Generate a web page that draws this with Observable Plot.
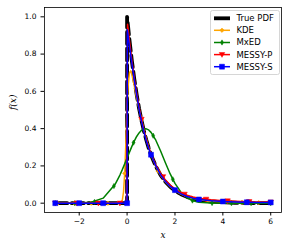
<!DOCTYPE html>
<html><head><meta charset="utf-8">
<script src="https://cdn.jsdelivr.net/npm/d3@7"></script>
<script src="https://cdn.jsdelivr.net/npm/@observablehq/plot@0.6"></script>
<style>
html,body{margin:0;padding:0;background:#fff;}
#wrap{position:relative;width:289px;height:250px;}
#leg{position:absolute;left:0;top:0;pointer-events:none;}
</style></head><body><div id="wrap"></div>
<script>
// ---- data ----
const xTicks = [-2, 0, 2, 4, 6];
const yTicks = [0, 0.2, 0.4, 0.6, 0.8, 1.0];
const seriesNames = ["True PDF", "KDE", "MxED", "MESSY-P", "MESSY-S"];

const xTrue = [-3, -2, -1, 0, 0, 0.1, 0.2, 0.3, 0.4, 0.5, 0.6, 0.7, 0.8, 0.9, 1.0, 1.2, 1.4, 1.6, 1.8, 2.0, 2.25, 2.5, 2.75, 3, 3.5, 4, 4.5, 5, 5.5, 6];
const yTrue = [0, 0, 0, 0, 1.0, 0.874, 0.763, 0.667, 0.583, 0.509, 0.445, 0.389, 0.340, 0.297, 0.259, 0.198, 0.151, 0.115, 0.088, 0.067, 0.048, 0.034, 0.024, 0.017, 0.009, 0.0045, 0.0023, 0.0012, 0.0006, 0.0003];

const xKde = [-3, -2.5, -2, -1.5, -1, -0.5, -0.3, -0.2, -0.15, -0.1, -0.05, 0, 0.05, 0.1, 0.15, 0.2, 0.3, 0.4, 0.5, 0.6, 0.7, 0.8, 0.9, 1.0, 1.2, 1.4, 1.6, 1.8, 2.0, 2.25, 2.5, 2.75, 3, 3.5, 4, 4.5, 5, 5.5, 6];
const yKde = [0, 0, 0, 0, 0, 0, 0.002, 0.015, 0.06, 0.16, 0.33, 0.52, 0.64, 0.70, 0.71, 0.69, 0.63, 0.565, 0.505, 0.45, 0.395, 0.345, 0.30, 0.262, 0.198, 0.15, 0.115, 0.088, 0.068, 0.049, 0.036, 0.026, 0.019, 0.011, 0.007, 0.005, 0.004, 0.003, 0.003];
const xKdeMark = [-2.9, -2.2, -1.5, -0.8, -0.1, 0.6, 1.3, 2.0, 2.7, 3.4, 4.1, 4.8, 5.5];
const yKdeMark = [0, 0, 0, 0, 0.16, 0.45, 0.172, 0.068, 0.028, 0.012, 0.007, 0.0045, 0.003];

const xMx = [-3, -2.5, -2, -1.5, -1, -0.5, -0.3, -0.2, -0.1, 0, 0.1, 0.2, 0.3, 0.4, 0.5, 0.6, 0.7, 0.8, 0.9, 1.0, 1.2, 1.4, 1.6, 1.8, 2.0, 2.25, 2.5, 2.75, 3, 3.5, 4, 5, 6];
const yMx = [0, 0, 0.0005, 0.0048, 0.027, 0.101, 0.151, 0.18, 0.211, 0.243, 0.274, 0.305, 0.333, 0.358, 0.377, 0.391, 0.399, 0.399, 0.393, 0.38, 0.338, 0.28, 0.217, 0.157, 0.106, 0.059, 0.029, 0.013, 0.005, 0.001, 0, 0, 0];
const xMxMark = [-3, -2.18, -1.36, -0.55, 0.27, 1.09, 1.91, 2.73, 3.55, 4.36, 5.18, 6];
const yMxMark = [0, 0.0002, 0.007, 0.092, 0.325, 0.362, 0.128, 0.014, 0.001, 0, 0, 0];

const xMp = [-3, -2, -1, -0.3, -0.02, 0.02, 0.1, 0.2, 0.3, 0.4, 0.5, 0.6, 0.7, 0.8, 0.9, 1.0, 1.2, 1.4, 1.6, 1.8, 2.0, 2.25, 2.5, 2.75, 3, 3.5, 4, 4.5, 5, 5.5, 6];
const yMp = [0, 0, 0, 0, 0, 0.96, 0.87, 0.765, 0.67, 0.59, 0.515, 0.45, 0.393, 0.343, 0.30, 0.265, 0.205, 0.16, 0.125, 0.097, 0.076, 0.057, 0.043, 0.033, 0.026, 0.018, 0.013, 0.01, 0.008, 0.007, 0.006];
const xMpMark = [-3, -2.1, -1.2, -0.3, 0.6, 1.5, 2.4, 3.3, 4.2, 5.1, 6];
const yMpMark = [0, 0, 0, 0, 0.45, 0.142, 0.048, 0.021, 0.012, 0.008, 0.006];

const xMs = [-3, -2, -1, 0, 0.01, 0.1, 0.2, 0.3, 0.4, 0.5, 0.6, 0.7, 0.8, 0.9, 1.0, 1.2, 1.4, 1.6, 1.8, 2.0, 2.25, 2.5, 2.75, 3, 3.5, 4, 4.5, 5, 5.5, 6];
const yMs = [0, 0, 0, 0, 0.93, 0.84, 0.75, 0.66, 0.58, 0.505, 0.44, 0.385, 0.335, 0.295, 0.26, 0.2, 0.152, 0.116, 0.09, 0.07, 0.05, 0.036, 0.027, 0.02, 0.013, 0.009, 0.007, 0.005, 0.004, 0.004];
const xMsMark = [-3, -2, -1, 0, 1, 2, 3, 4, 5, 6];
const yMsMark = [0, 0, 0, 0, 0.26, 0.07, 0.02, 0.009, 0.005, 0.004];

// ---- build ----
const pts = (xs, ys) => xs.map((x, i) => ({x, y: ys[i]}));
const triDown = {
  draw(ctx, size) {
    const a = Math.sqrt(size) * 0.6;
    ctx.moveTo(-a, -a * 0.75);
    ctx.lineTo(a, -a * 0.75);
    ctx.lineTo(0, a * 1.0);
    ctx.closePath();
  }
};
const series = [
  {name: seriesNames[0], color: "black", line: pts(xTrue, yTrue), marks: [], width: 3.8, dash: "12,4.5", symbol: null, r: 0},
  {name: seriesNames[1], color: "orange", line: pts(xKde, yKde), marks: pts(xKdeMark, yKdeMark), width: 1.5, dash: null, symbol: "diamond2", r: 2.0},
  {name: seriesNames[2], color: "green", line: pts(xMx, yMx), marks: pts(xMxMark, yMxMark), width: 1.5, dash: null, symbol: "diamond", r: 1.6},
  {name: seriesNames[3], color: "red", line: pts(xMp, yMp), marks: pts(xMpMark, yMpMark), width: 1.5, dash: null, symbol: triDown, r: 2.6},
  {name: seriesNames[4], color: "blue", line: pts(xMs, yMs), marks: pts(xMsMark, yMsMark), width: 1.5, dash: null, symbol: "square", r: 2.8}
];

const fmtX = d => d < 0 ? "\u2212" + Math.abs(d) : String(d);
const marks = [];
for (const s of series) {
  marks.push(Plot.line(s.line, {x: "x", y: "y", stroke: s.color, strokeWidth: s.width, strokeDasharray: s.dash, strokeLinejoin: "round"}));
  if (s.marks.length) marks.push(Plot.dot(s.marks, {x: "x", y: "y", fill: s.color, stroke: s.color, strokeWidth: 0.5, symbol: s.symbol, r: s.r}));
}

const chart = Plot.plot({
  width: 289, height: 250,
  marginLeft: 44, marginRight: 8, marginTop: 7, marginBottom: 38,
  style: {fontFamily: "DejaVu Sans", fontSize: "7.5px", background: "white", color: "black"},
  x: {domain: [-3.45, 6.45]},
  y: {domain: [-0.05, 1.05]},
  marks: [
    Plot.axisX({ticks: xTicks, tickFormat: fmtX, tickSize: 3.5, tickPadding: 2.5, label: null, fontSize: 7.5}),
    Plot.axisY({ticks: yTicks, tickFormat: d => d.toFixed(1), tickSize: 3.5, tickPadding: 4.5, label: null, fontSize: 7.5}),
    ...marks,
    Plot.frame({stroke: "black", strokeWidth: 0.8}),
    Plot.text(["x"], {frameAnchor: "bottom", dy: 25, text: d => d, fontStyle: "italic", fontFamily: "DejaVu Serif", fontSize: 9}),
    Plot.text(["f(x)"], {frameAnchor: "left", dx: -31, rotate: -90, text: d => d, fontStyle: "italic", fontFamily: "DejaVu Serif", fontSize: 9})
  ]
});
const wrap = document.getElementById("wrap");
wrap.appendChild(chart);

// ---- legend ----
const leg = d3.select(wrap).append("svg").attr("id", "leg").attr("width", 289).attr("height", 250);
leg.append("rect").attr("x", 210.5).attr("y", 10.5).attr("width", 69).attr("height", 64).attr("rx", 2)
  .attr("fill", "white").attr("fill-opacity", 0.8).attr("stroke", "#cccccc").attr("stroke-width", 0.8);
const rowY = [18.3, 30.3, 42.5, 54.6, 66.7];
const symMap = {diamond2: d3.symbolDiamond2, diamond: d3.symbolDiamond, square: d3.symbolSquare};
series.forEach((s, i) => {
  const y = rowY[i];
  leg.append("line").attr("x1", 214).attr("x2", 230).attr("y1", y).attr("y2", y)
    .attr("stroke", s.color).attr("stroke-width", s.width);
  if (s.symbol) {
    const type = typeof s.symbol === "string" ? symMap[s.symbol] : s.symbol;
    leg.append("path").attr("d", d3.symbol(type, Math.PI * s.r * s.r)())
      .attr("transform", `translate(222,${y})`).attr("fill", s.color).attr("stroke", s.color).attr("stroke-width", 0.5);
  }
  leg.append("text").attr("x", 236.5).attr("y", y).attr("dy", "0.35em")
    .attr("font-family", "DejaVu Sans").attr("font-size", 8.5).attr("fill", "black").text(s.name);
});
</script></body></html>
